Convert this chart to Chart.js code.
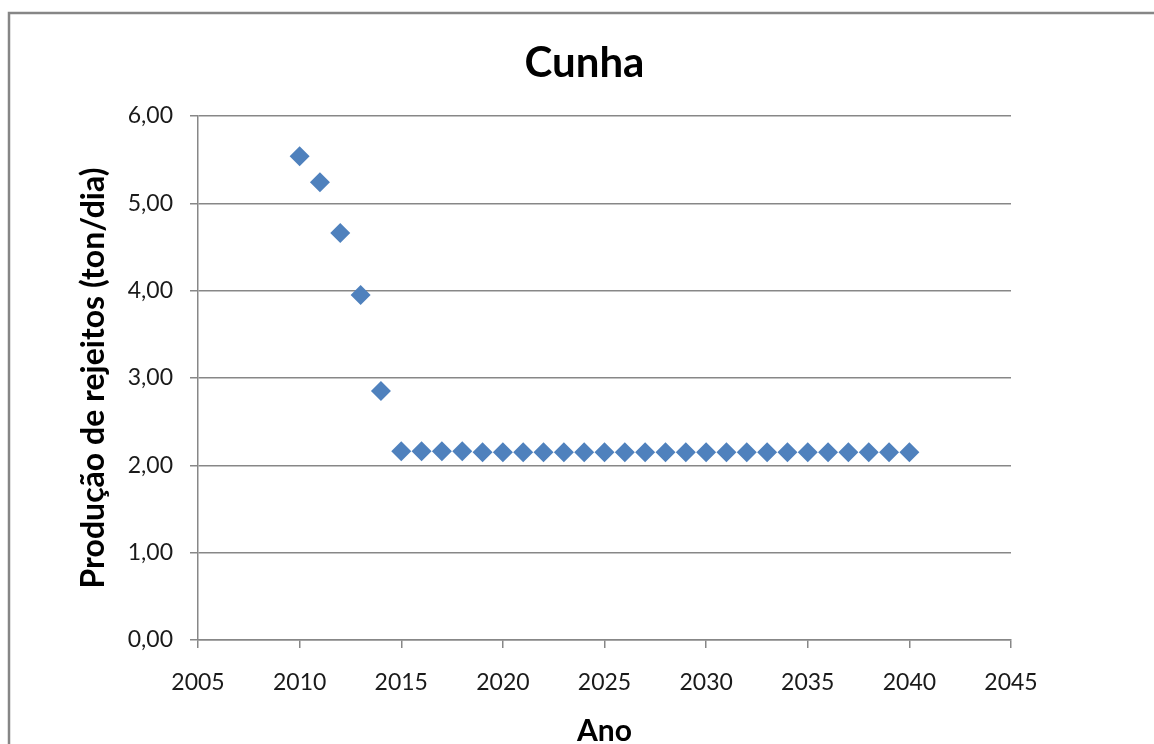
<!DOCTYPE html>
<html>
<head>
<meta charset="utf-8">
<script src="https://cdn.jsdelivr.net/npm/chart.js@4"></script>
<style>
  html, body { margin: 0; padding: 0; background: #ffffff; }
  #wrap { width: 1154px; height: 744px; }
</style>
</head>
<body>
<div id="wrap"><canvas id="c" width="1154" height="744"></canvas></div>
<script>
const years = [2010, 2011, 2012, 2013, 2014, 2015, 2016, 2017, 2018, 2019, 2020,
  2021, 2022, 2023, 2024, 2025, 2026, 2027, 2028, 2029, 2030,
  2031, 2032, 2033, 2034, 2035, 2036, 2037, 2038, 2039, 2040];
const production = [5.54, 5.24, 4.66, 3.95, 2.85, 2.16, 2.16, 2.16, 2.16, 2.15, 2.15,
  2.15, 2.15, 2.15, 2.15, 2.15, 2.15, 2.15, 2.15, 2.15, 2.15,
  2.15, 2.15, 2.15, 2.15, 2.15, 2.15, 2.15, 2.15, 2.15, 2.15];
const xTicks = [2005, 2010, 2015, 2020, 2025, 2030, 2035, 2040, 2045];
const yTicks = [0, 1, 2, 3, 4, 5, 6];

const chartTitle = 'Cunha';
const xTitle = 'Ano';
const yTitle = 'Produção de rejeitos (ton/dia)';

const points = years.map((y, i) => ({ x: y, y: production[i] }));

const gridColor = '#878787';
const fontFamily = 'Lato, "Open Sans", sans-serif';

const framePlugin = {
  id: 'frame',
  beforeDraw(chart) {
    const ctx = chart.ctx;
    ctx.save();
    ctx.strokeStyle = '#868686';
    ctx.lineWidth = 2.5;
    ctx.strokeRect(9, 13, 1300, 900);
    ctx.restore();
  }
};

new Chart(document.getElementById('c'), {
  type: 'scatter',
  data: {
    datasets: [{
      data: points,
      backgroundColor: '#4F81BD',
      borderColor: '#4F81BD',
      borderWidth: 0,
      pointStyle: 'rectRot',
      pointRadius: 10,
      pointHoverRadius: 10
    }]
  },
  options: {
    responsive: false,
    animation: false,
    events: [],
    layout: { padding: { left: 15, right: 0, top: 0, bottom: 0 } },
    plugins: {
      legend: { display: false },
      tooltip: { enabled: false },
      title: {
        display: true,
        text: chartTitle,
        color: '#000000',
        font: { family: fontFamily, size: 42, weight: 'bold', lineHeight: 1.2 },
        padding: { top: 38, bottom: 27.6 }
      }
    },
    scales: {
      x: {
        type: 'linear',
        position: 'bottom',
        min: xTicks[0],
        max: xTicks[xTicks.length - 1],
        afterBuildTicks: (s) => { s.ticks = xTicks.map(v => ({ value: v })); },
        afterFit: (s) => { s.height = 104; },
        ticks: {
          color: '#1a1a1a',
          font: { family: fontFamily, size: 23 },
          padding: 21,
          maxRotation: 0,
          autoSkip: false,
          callback: (v) => String(v)
        },
        grid: {
          display: true,
          drawOnChartArea: false,
          drawTicks: true,
          tickLength: 8,
          color: gridColor,
          lineWidth: 1.5
        },
        border: { display: true, color: gridColor, width: 1.5 },
        title: {
          display: true,
          text: xTitle,
          color: '#000000',
          font: { family: fontFamily, size: 30, weight: 'bold', lineHeight: 0.85 },
          padding: { top: 0, bottom: 0 }
        }
      },
      y: {
        type: 'linear',
        position: 'left',
        min: yTicks[0],
        max: yTicks[yTicks.length - 1],
        afterBuildTicks: (s) => { s.ticks = yTicks.map(v => ({ value: v })); },
        afterFit: (s) => { s.width = 183; },
        ticks: {
          color: '#1a1a1a',
          font: { family: fontFamily, size: 23 },
          padding: 17,
          autoSkip: false,
          callback: (v) => Number(v).toFixed(2).replace('.', ',')
        },
        grid: {
          display: true,
          drawOnChartArea: true,
          drawTicks: true,
          tickLength: 8,
          color: gridColor,
          lineWidth: 1.5
        },
        border: { display: true, color: gridColor, width: 1.5 },
        title: {
          display: true,
          text: yTitle,
          color: '#000000',
          font: { family: fontFamily, size: 32, weight: 'bold', lineHeight: 1.2 },
          padding: { top: 59, bottom: 0 }
        }
      },
      yRight: {
        type: 'linear',
        position: 'right',
        display: true,
        afterFit: (s) => { s.width = 143; },
        ticks: { display: false },
        grid: { display: false, drawTicks: false },
        border: { display: false },
        title: { display: false }
      }
    }
  },
  plugins: [framePlugin]
});
</script>
</body>
</html>
